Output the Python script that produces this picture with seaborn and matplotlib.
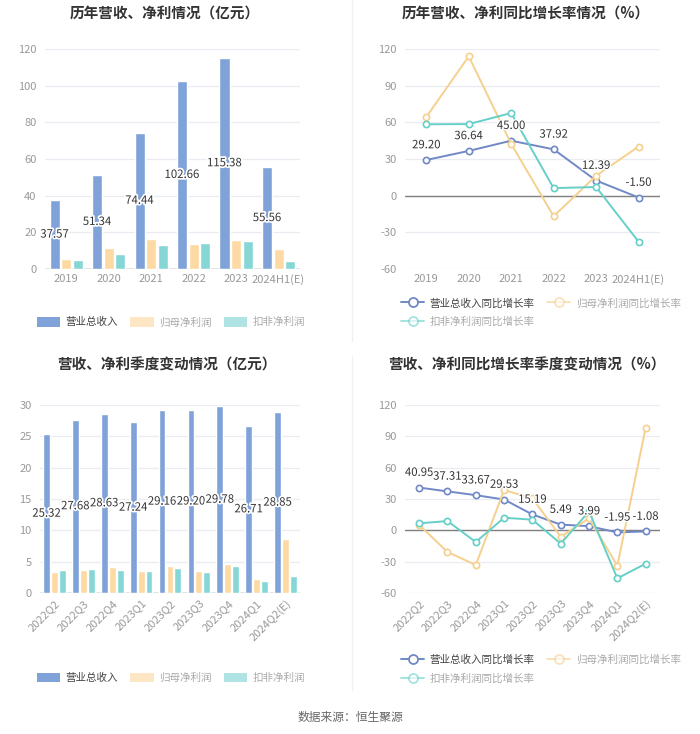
import matplotlib
matplotlib.use("Agg")
import matplotlib.pyplot as plt
import matplotlib.patheffects as pe
from matplotlib.patches import Patch
from matplotlib.lines import Line2D
import seaborn as sns
import pandas as pd

# ---------------- data ----------------
years = ["2019", "2020", "2021", "2022", "2023", "2024H1(E)"]
rev_year = [37.57, 51.34, 74.44, 102.66, 115.38, 55.56]
np_year = [5.45, 11.6, 16.5, 13.6, 16.0, 11.1]
dnp_year = [4.9, 8.0, 13.1, 14.2, 15.3, 4.5]

rev_year_g = [29.20, 36.64, 45.00, 37.92, 12.39, -1.50]
np_year_g = [64.3, 114.0, 42.4, -16.8, 16.3, 40.2]
dnp_year_g = [58.4, 58.6, 67.6, 6.2, 7.1, -37.7]

quarters = ["2022Q2", "2022Q3", "2022Q4", "2023Q1", "2023Q2", "2023Q3",
            "2023Q4", "2024Q1", "2024Q2(E)"]
rev_q = [25.32, 27.68, 28.63, 27.24, 29.16, 29.20, 29.78, 26.71, 28.85]
np_q = [3.35, 3.7, 4.1, 3.46, 4.36, 3.56, 4.63, 2.29, 8.67]
dnp_q = [3.67, 3.78, 3.62, 3.46, 4.04, 3.3, 4.31, 1.86, 2.71]

rev_q_g = [40.95, 37.31, 33.67, 29.53, 15.19, 5.49, 3.99, -1.95, -1.08]
np_q_g = [5.1, -20.7, -33.2, 38.6, 30.6, -6.1, 11.5, -33.8, 98.3]
dnp_q_g = [6.7, 8.9, -11.2, 12.1, 10.2, -12.8, 18.2, -46.0, -31.9]

bar_series = ["营业总收入", "归母净利润", "扣非净利润"]
line_series = ["营业总收入同比增长率", "归母净利润同比增长率", "扣非净利润同比增长率"]

titles = ["历年营收、净利情况（亿元）", "历年营收、净利同比增长率情况（%）",
          "营收、净利季度变动情况（亿元）", "营收、净利同比增长率季度变动情况（%）"]
source = "数据来源：恒生聚源"

# ---------------- style ----------------
sns.set_theme(style="white")
plt.rcParams["font.family"] = ["Noto Sans CJK SC", "DejaVu Sans"]
plt.rcParams["axes.unicode_minus"] = False

bar_colors = ["#7FA2D8", "#FDD9A3", "#86D6D6"]
line_colors = ["#7089C6", "#F6D08E", "#66D0C8"]
grid_c = "#E9EDF3"
tick_c = "#999999"
text_c = "#333333"

fig = plt.figure(figsize=(7.0, 7.34), dpi=100)


def long_df(cats, names, cols):
    rows = []
    for name, vals in zip(names, cols):
        for c, v in zip(cats, vals):
            rows.append({"cat": c, "series": name, "value": v})
    return pd.DataFrame(rows)


def style_axes(ax, ylim, yticks, rotate=False):
    ax.set_ylim(*ylim)
    ax.set_yticks(yticks)
    ax.set_yticklabels([str(t) for t in yticks])
    for s in ax.spines.values():
        s.set_visible(False)
    ax.yaxis.grid(True, color=grid_c, linewidth=0.9)
    ax.set_axisbelow(True)
    ax.tick_params(axis="both", length=0, colors=tick_c, labelsize=8)
    ax.tick_params(axis="y", pad=6)
    ax.set_xlabel("")
    ax.set_ylabel("")
    if rotate:
        for lab in ax.get_xticklabels():
            lab.set_rotation(45)
            lab.set_ha("right")
            lab.set_rotation_mode("anchor")
    ax.axhline(0, color="#808080", linewidth=1.0, zorder=1.5)


def bar_panel(rect, cats, cols, ylim, yticks, rotate=False):
    ax = fig.add_axes(rect)
    df = long_df(cats, bar_series, cols)
    sns.barplot(data=df, x="cat", y="value", hue="series", hue_order=bar_series,
                palette=bar_colors, width=0.82, gap=0.13, saturation=1,
                legend=False, ax=ax, zorder=2)
    ax.set_xlim(-0.5, len(cats) - 0.5)
    style_axes(ax, ylim, yticks, rotate)
    for bar, v in zip(ax.containers[0], cols[0]):
        ax.text(bar.get_x() + bar.get_width() / 2, bar.get_height() / 2,
                f"{v:.2f}", ha="center", va="center", fontsize=8.2, color=text_c,
                zorder=5,
                path_effects=[pe.withStroke(linewidth=2.5, foreground="white")])
    return ax


def line_panel(rect, cats, cols, ylim, yticks, rotate=False):
    ax = fig.add_axes(rect)
    df = long_df(cats, line_series, cols)
    sns.lineplot(data=df, x="cat", y="value", hue="series", hue_order=line_series,
                 palette=line_colors, sort=False, marker="o", markersize=4.5,
                 markerfacecolor="white", markeredgewidth=1.2, linewidth=1.4,
                 legend=False, ax=ax, zorder=3)
    for ln in ax.lines:
        ln.set_markeredgecolor(ln.get_color())
    ax.set_xlim(-0.5, len(cats) - 0.5)
    style_axes(ax, ylim, yticks, rotate)
    for i, v in enumerate(cols[0]):
        ax.annotate(f"{v:.2f}", (i, v), xytext=(0, 7), textcoords="offset points",
                    ha="center", va="bottom", fontsize=8.2, color=text_c, zorder=6,
                    path_effects=[pe.withStroke(linewidth=2, foreground="white")])
    return ax


ax1 = bar_panel([0.0643, 0.6335, 0.364, 0.2997], years,
                [rev_year, np_year, dnp_year], (0, 120), [0, 20, 40, 60, 80, 100, 120])
ax2 = line_panel([0.5786, 0.6335, 0.364, 0.2997], years,
                 [rev_year_g, np_year_g, dnp_year_g], (-60, 120),
                 [-60, -30, 0, 30, 60, 90, 120])
ax3 = bar_panel([0.0571, 0.1921, 0.3714, 0.2561], quarters,
                [rev_q, np_q, dnp_q], (0, 30), [0, 5, 10, 15, 20, 25, 30], rotate=True)
ax4 = line_panel([0.5786, 0.1921, 0.364, 0.2561], quarters,
                 [rev_q_g, np_q_g, dnp_q_g], (-60, 120),
                 [-60, -30, 0, 30, 60, 90, 120], rotate=True)

# titles
for (x, y), t in zip([(0.236, 0.982), (0.751, 0.982), (0.238, 0.503), (0.753, 0.503)],
                     titles):
    fig.text(x, y, t, ha="center", va="center", fontsize=10.5, fontweight="bold",
             color=text_c)

# legends
legend_text_colors = ["#444444", "#AAAAAA", "#AAAAAA"]
bar_alphas = [1.0, 0.65, 0.65]


def bar_handles():
    return [Patch(facecolor=c, edgecolor="none", alpha=a)
            for c, a in zip(bar_colors, bar_alphas)]


def line_handles():
    return [Line2D([0], [0], color=c, marker="o", markersize=6.5,
                   markerfacecolor="white", markeredgecolor=c, markeredgewidth=1.3,
                   linewidth=1.4, alpha=a)
            for c, a in zip(line_colors, [1.0, 0.6, 0.6])]


def add_legend(handles, labels, text_colors, anchor, loc, ncol, spacing=0.5):
    lg = fig.legend(handles, labels, loc=loc, bbox_to_anchor=anchor, ncol=ncol,
                    frameon=False, fontsize=7.6, handlelength=2.2, handleheight=1.0,
                    columnspacing=1.2, handletextpad=0.5, labelspacing=spacing,
                    borderaxespad=0, borderpad=0)
    for t, c in zip(lg.get_texts(), text_colors):
        t.set_color(c)
    return lg


add_legend(bar_handles(), bar_series, legend_text_colors, (0.244, 0.561), "center", 3)
add_legend(bar_handles(), bar_series, legend_text_colors, (0.244, 0.0763), "center", 3)

# two-column line legends filled row by row
order = [0, 2, 1]
for anchor in [(0.573, 0.594), (0.573, 0.108)]:
    lh = line_handles()
    add_legend([lh[i] for i in order], [line_series[i] for i in order],
               [legend_text_colors[i] for i in order], anchor, "upper left", 2,
               spacing=0.8)

# divider
fig.add_artist(Line2D([0.503, 0.503], [0.535, 1.0], color="#F0F0F0", linewidth=1))
fig.add_artist(Line2D([0.503, 0.503], [0.06, 0.515], color="#F0F0F0", linewidth=1))

fig.text(0.5, 0.022, source, ha="center", va="center", fontsize=8.5, color="#666666")

fig.savefig("out.png", dpi=100, facecolor="white")
